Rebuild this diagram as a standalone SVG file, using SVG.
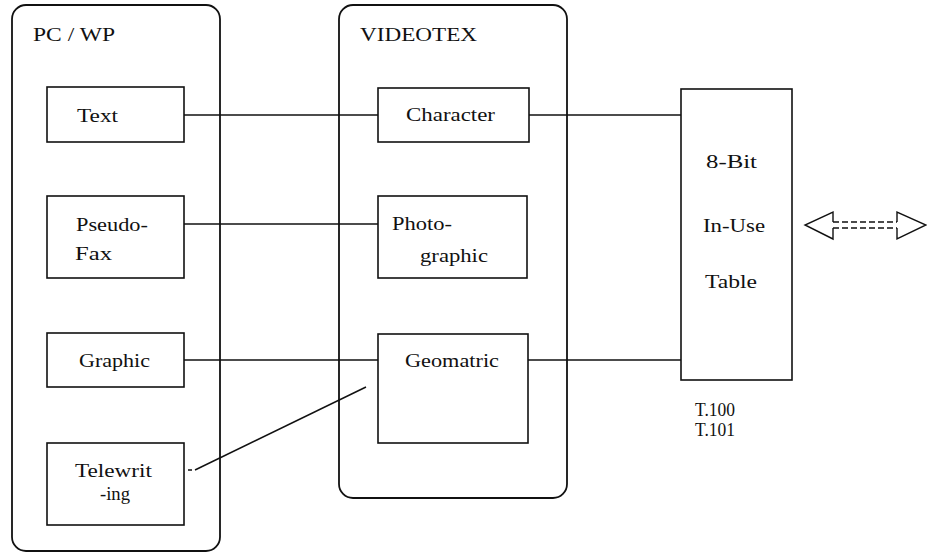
<svg xmlns="http://www.w3.org/2000/svg" width="927" height="554" viewBox="0 0 927 554">
<style>
.c{fill:none;stroke:#111;stroke-width:1.8}
.b{fill:#fff;stroke:#111;stroke-width:1.6}
.t{font-family:"Liberation Serif","Times New Roman",serif;font-size:19px;fill:#111}
.l{stroke:#111;stroke-width:1.5;fill:none}
</style>
<rect width="927" height="554" fill="#fff"/>
<g id="pcwp">
<rect class="c" x="12" y="5" width="208" height="546" rx="14"/>
<text class="t" x="33" y="41" textLength="82" lengthAdjust="spacingAndGlyphs">PC / WP</text>
</g>
<g id="videotex">
<rect class="c" x="339" y="5" width="228" height="493" rx="14"/>
<text class="t" x="360" y="41" textLength="117" lengthAdjust="spacingAndGlyphs">VIDEOTEX</text>
</g>
<g id="connectors">
<line class="l" x1="184" y1="115" x2="378" y2="115" stroke-width="2"/>
<line class="l" x1="184" y1="224" x2="378" y2="224"/>
<line class="l" x1="184" y1="360" x2="378" y2="360"/>
<line class="l" x1="195" y1="470" x2="366" y2="387"/>
<line class="l" x1="188" y1="470" x2="192" y2="470"/>
<line class="l" x1="529" y1="115" x2="681" y2="115"/>
<line class="l" x1="528" y1="360" x2="681" y2="360"/>
</g>
<g id="text">
<rect class="b" x="47" y="87" width="137" height="55"/>
<text class="t" x="77" y="122" textLength="41" lengthAdjust="spacingAndGlyphs">Text</text>
</g>
<g id="pseudofax">
<rect class="b" x="47" y="196" width="137" height="82"/>
<text class="t" x="76" y="231" textLength="72" lengthAdjust="spacingAndGlyphs">Pseudo-</text>
<text class="t" x="75" y="260" textLength="37" lengthAdjust="spacingAndGlyphs">Fax</text>
</g>
<g id="graphic">
<rect class="b" x="47" y="333" width="137" height="54"/>
<text class="t" x="79" y="367" textLength="71" lengthAdjust="spacingAndGlyphs">Graphic</text>
</g>
<g id="telewriting">
<rect class="b" x="47" y="443" width="137" height="82"/>
<text class="t" x="75" y="477" textLength="77" lengthAdjust="spacingAndGlyphs">Telewrit</text>
<text class="t" x="100" y="500" textLength="30" lengthAdjust="spacingAndGlyphs">-ing</text>
</g>
<g id="character">
<rect class="b" x="378" y="88" width="151" height="54"/>
<text class="t" x="406" y="121" textLength="89" lengthAdjust="spacingAndGlyphs">Character</text>
</g>
<g id="photographic">
<rect class="b" x="378" y="196" width="149" height="82"/>
<text class="t" x="392" y="230" textLength="60" lengthAdjust="spacingAndGlyphs">Photo-</text>
<text class="t" x="420" y="262" textLength="68" lengthAdjust="spacingAndGlyphs">graphic</text>
</g>
<g id="geomatric">
<rect class="b" x="378" y="334" width="150" height="109"/>
<text class="t" x="405" y="367" textLength="94" lengthAdjust="spacingAndGlyphs">Geomatric</text>
</g>
<g id="table">
<rect class="b" x="681" y="89" width="111" height="291"/>
<text class="t" x="706" y="168" textLength="51" lengthAdjust="spacingAndGlyphs">8-Bit</text>
<text class="t" x="703" y="232" textLength="62" lengthAdjust="spacingAndGlyphs">In-Use</text>
<text class="t" x="705" y="288" textLength="52" lengthAdjust="spacingAndGlyphs">Table</text>
<text class="t" x="695" y="416" textLength="40" lengthAdjust="spacingAndGlyphs">T.100</text>
<text class="t" x="695" y="436" textLength="40" lengthAdjust="spacingAndGlyphs">T.101</text>
</g>
<g id="arrow" fill="none" stroke="#111" stroke-width="1.4">
<polyline points="833,222 833,212 805,225 833,239 833,228"/>
<polyline points="897,222 897,212 926,225 897,239 897,228"/>
<line x1="833" y1="222" x2="897" y2="222" stroke-dasharray="6,3"/>
<line x1="833" y1="228" x2="897" y2="228" stroke-dasharray="6,3"/>
</g>
</svg>
